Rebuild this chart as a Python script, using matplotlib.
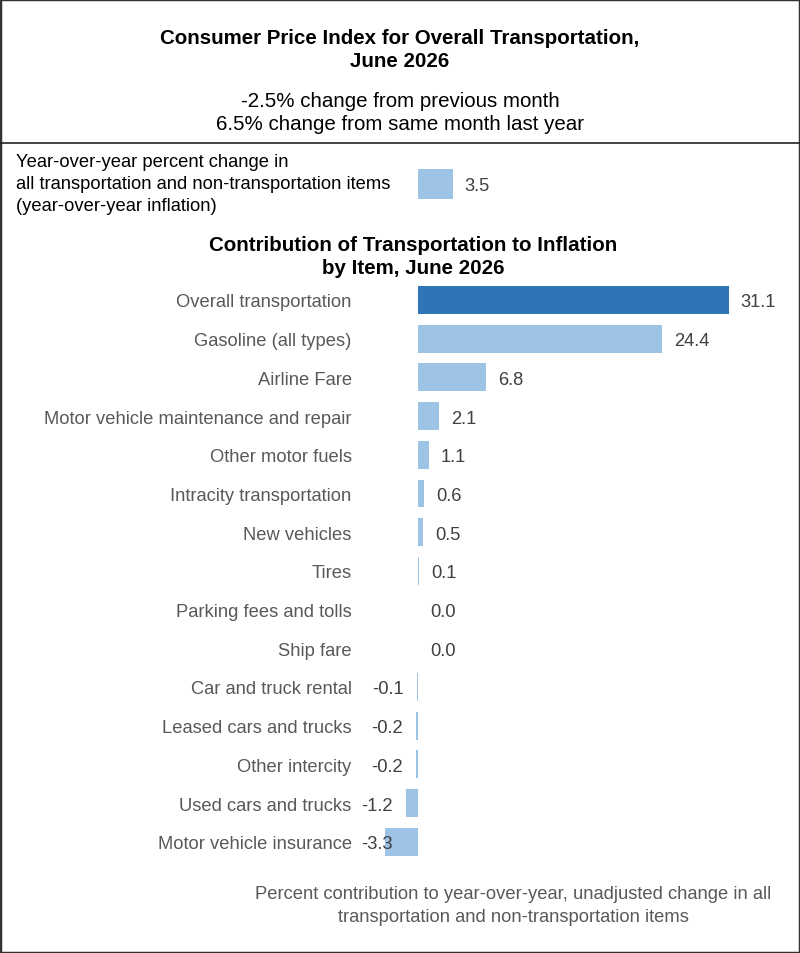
import matplotlib.pyplot as plt
from matplotlib.lines import Line2D
from matplotlib.patches import Rectangle

plt.rcParams['font.family'] = ['Liberation Sans', 'DejaVu Sans']

# data
items = ['Overall transportation', 'Gasoline (all types)', 'Airline Fare',
         'Motor vehicle maintenance and repair', 'Other motor fuels',
         'Intracity transportation', 'New vehicles', 'Tires',
         'Parking fees and tolls', 'Ship fare', 'Car and truck rental',
         'Leased cars and trucks', 'Other intercity', 'Used cars and trucks',
         'Motor vehicle insurance']
contrib = [31.1, 24.4, 6.8, 2.1, 1.1, 0.6, 0.5, 0.1, 0.0, 0.0,
           -0.1, -0.2, -0.2, -1.2, -3.3]
overall_label = 'Year-over-year percent change in\nall transportation and non-transportation items\n(year-over-year inflation)'
overall_value = 3.5

W, H = 800, 954
dark = '#2E75B6'
light = '#9DC3E6'
gray = '#595959'
valgray = '#404040'

fig = plt.figure(figsize=(W / 100, H / 100), dpi=100)


def fx(px):
    return px / W


def fy(py):
    return 1 - py / H


# x scale: zero at px 418, 10 px per unit
x_left, x_right = 360, 760
xlim = ((x_left - 418) / 10, (x_right - 418) / 10)

# header texts
fig.text(fx(400), fy(50), 'Consumer Price Index for Overall Transportation,\nJune 2026',
         ha='center', va='center', fontsize=14.8, fontweight='bold', color='black',
         linespacing=1.3)
fig.text(fx(400), fy(113), '-2.5% change from previous month\n6.5% change from same month last year',
         ha='center', va='center', fontsize=14.8, color='black', linespacing=1.3)
fig.add_artist(Line2D([0, 1], [fy(144), fy(144)], transform=fig.transFigure,
                      color='#222222', lw=1.2))
fig.add_artist(Rectangle((0, 0), 1, 1, transform=fig.transFigure, fill=False,
                         ec='#333333', lw=2.5))

# overall inflation bar
row = 38.7
ax0 = fig.add_axes([fx(x_left), fy(185 + row / 2), fx(x_right - x_left), row / H])
ax0.barh([0], [overall_value], height=0.75, color=light)
ax0.set_xlim(xlim)
ax0.set_ylim(0.5, -0.5)
ax0.axis('off')
ax0.annotate(f'{overall_value:.1f}', (overall_value, 0), xytext=(8.5, 0),
             textcoords='offset points', ha='left', va='center_baseline',
             fontsize=13.2, color=valgray)
fig.text(fx(16), fy(184.5), overall_label, ha='left', va='center',
         fontsize=13.2, color='black', linespacing=1.42)

# section title
fig.text(fx(413), fy(257), 'Contribution of Transportation to Inflation\nby Item, June 2026',
         ha='center', va='center', fontsize=14.8, fontweight='bold', color='black',
         linespacing=1.3)

# main bars
top = 301 - row / 2
n = len(items)
ax = fig.add_axes([fx(x_left), fy(top + n * row), fx(x_right - x_left), n * row / H])
colors = [dark] + [light] * (n - 1)
ax.barh(range(n), contrib, height=0.72, color=colors)
ax.set_xlim(xlim)
ax.set_ylim(n - 0.5, -0.5)
ax.set_yticks(range(n))
ax.set_yticklabels(items, fontsize=13.2, color=gray)
ax.tick_params(axis='y', length=0, pad=6)
ax.set_xticks([])
for s in ax.spines.values():
    s.set_visible(False)
ax.patch.set_alpha(0)

for i, v in enumerate(contrib):
    if v >= 0:
        ax.annotate(f'{v:.1f}', (v, i), xytext=(8.5, 0), textcoords='offset points',
                    ha='left', va='center_baseline', fontsize=13.2, color=valgray)
    else:
        ax.annotate(f'{v:.1f}', (max(v, -1.2), i), xytext=(-9.5, 0),
                    textcoords='offset points', ha='right', va='center_baseline',
                    fontsize=13.2, color=valgray)

# footnote
fig.text(fx(513), fy(906), 'Percent contribution to year-over-year, unadjusted change in all\ntransportation and non-transportation items',
         ha='center', va='center', fontsize=13.2, color=gray, linespacing=1.4)

fig.savefig('out.png', dpi=100)
